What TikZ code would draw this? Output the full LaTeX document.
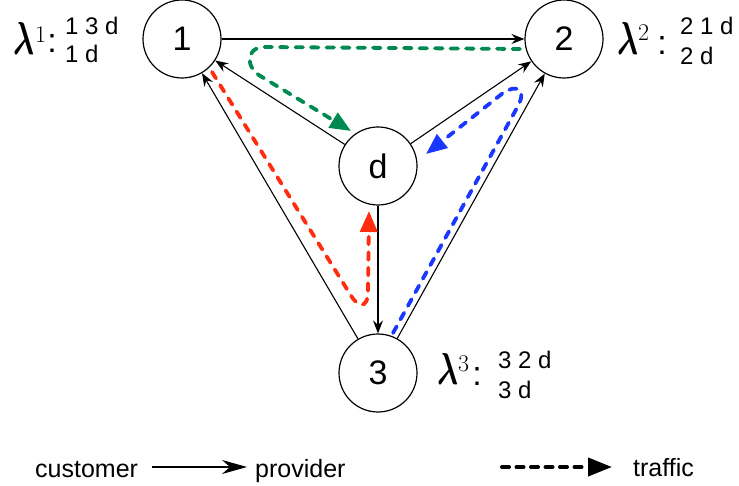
\documentclass[tikz,border=0pt]{standalone}
\usepackage{fontspec}
\usepackage{graphicx}
\usepackage{bm}
\newfontfamily\hv{Liberation Sans}
\usetikzlibrary{arrows.meta}
\definecolor{tgreen}{RGB}{0,138,82}
\definecolor{tred}{RGB}{255,45,15}
\definecolor{tblue}{RGB}{25,55,255}
\begin{document}
\begin{tikzpicture}[x=1pt,y=-1pt,
  nd/.style={circle,draw,line width=1.2pt,minimum size=78pt,inner sep=0pt,font=\hv\fontsize{34}{34}\selectfont},
  cp/.style={-{Stealth[length=13pt,width=10pt,inset=4.5pt]},line width=1.1pt},
  tr/.style={line width=3.8pt,dash pattern=on 7.5pt off 8pt,line cap=round,-{Triangle[length=21pt,width=17pt]}},
  lamb/.style={anchor=south west,inner sep=0pt},
  supl/.style={anchor=south west,inner sep=0pt,font=\fontsize{24}{24}\selectfont},
  coln/.style={anchor=base,inner sep=0pt,font=\hv\fontsize{34}{34}\selectfont},
  rowt/.style={anchor=base west,inner sep=0pt,font=\hv\fontsize{24}{24}\selectfont},
  legt/.style={anchor=base west,inner sep=0pt,font=\hv\fontsize{25}{25}\selectfont}
]
\useasboundingbox (0,0) rectangle (739,486);
% nodes
\node[nd] (n1) at (182,39) {1};
\node[nd] (n2) at (564,39) {2};
\node[nd] (nd) at (378,166) {d};
\node[nd] (n3) at (378,373) {3};
% customer -> provider edges
\draw[cp] (n1) -- (n2);
\draw[cp] (nd) -- (n1);
\draw[cp] (nd) -- (n2);
\draw[cp] (nd) -- (n3);
\draw[cp] (n3) -- (n1);
\draw[cp] (n3) -- (n2);
% traffic paths
\coordinate (g0) at (520,49);
\coordinate (g1) at (265,47);
\coordinate (g4) at (262,77);
\coordinate (g5) at (351,131);
\draw[tr,tgreen] (g0) -- (g1) .. controls (245,47) and (245,68) .. (g4) -- (g5);
\coordinate (r0) at (212,72);
\coordinate (r1) at (350,294);
\coordinate (r2) at (368,290);
\coordinate (r3) at (369,211);
\draw[tr,tred] (r0) -- (r1) .. controls (358,308) and (368,310) .. (r2) -- (r3);
\coordinate (b0) at (393,333);
\coordinate (b1) at (518,106);
\coordinate (b2) at (503,93);
\coordinate (b3) at (426,154);
\draw[tr,tblue] (b0) -- (b1) .. controls (527,89) and (516,84) .. (b2) -- (b3);
% labels lambda
\node[lamb] (l1) at (13,55) {\resizebox{21pt}{32pt}{$\bm{\lambda}$}};
\node[supl] (s1) at (35,43) {1};
\node[coln] (c1) at (52,53) {:};
\node[rowt] (t1a) at (65,35) {1 3 d};
\node[rowt] (t1b) at (65,63) {1 d};
\node[lamb] (l2) at (617,55) {\resizebox{21pt}{32pt}{$\bm{\lambda}$}};
\node[supl] (s2) at (638,41) {2};
\node[coln] (c2) at (662,55) {:};
\node[rowt] (t2a) at (680,35) {2 1 d};
\node[rowt] (t2b) at (680,65) {2 d};
\node[lamb] (l3) at (437,385) {\resizebox{21pt}{31pt}{$\bm{\lambda}$}};
\node[supl] (s3) at (458,372) {3};
\node[coln] (c3) at (477,385) {:};
\node[rowt] (t3a) at (498,368) {3 2 d};
\node[rowt] (t3b) at (498,398) {3 d};
% legend
\node[legt] (cust) at (35,477) {customer};
\coordinate (la) at (152,467);
\coordinate (lb) at (247,467);
\draw[line width=1.1pt,-{Stealth[length=25pt,width=14pt,inset=8pt]}] (la) -- (lb);
\node[legt] (prov) at (255,477) {provider};
\coordinate (ta) at (502,467);
\coordinate (tb) at (612,467);
\draw[line width=4pt,dash pattern=on 7pt off 7.5pt,line cap=round,-{Triangle[length=24pt,width=18pt]}] (ta) -- (tb);
\node[legt] (traf) at (633,476) {traffic};
\end{tikzpicture}
\end{document}
